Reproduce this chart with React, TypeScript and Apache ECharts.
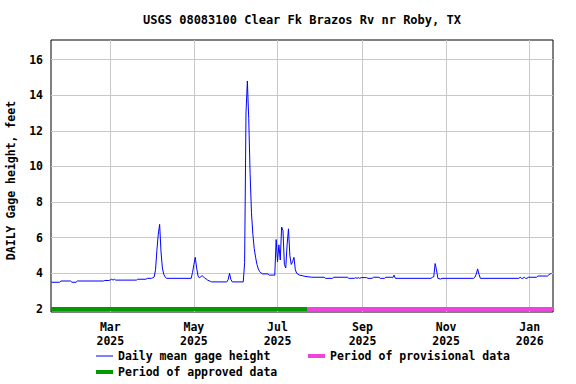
import React, { useEffect, useRef } from "react";
import * as echarts from "echarts";

const FONT = "'DejaVu Sans Mono', 'Liberation Mono', monospace";

const chartTitle = "USGS 08083100 Clear Fk Brazos Rv nr Roby, TX";
const yAxisTitle = "DAILY Gage height, feet";
const lineName = "Daily mean gage height";
const approvedName = "Period of approved data";
const provisionalName = "Period of provisional data";

// Daily mean gage height (feet)
const gageDates = [
  "2025-01-17", "2025-01-23", "2025-01-24", "2025-01-31", "2025-02-01", "2025-02-04",
  "2025-02-05", "2025-02-24", "2025-02-25", "2025-02-28", "2025-03-01", "2025-03-02",
  "2025-03-03", "2025-03-04", "2025-03-05", "2025-03-20", "2025-03-21", "2025-03-27",
  "2025-03-28", "2025-03-31", "2025-04-01", "2025-04-02", "2025-04-03", "2025-04-04",
  "2025-04-05", "2025-04-06", "2025-04-07", "2025-04-08", "2025-04-09", "2025-04-10",
  "2025-04-11", "2025-04-29", "2025-04-30", "2025-05-01", "2025-05-02", "2025-05-03",
  "2025-05-04", "2025-05-05", "2025-05-06", "2025-05-07", "2025-05-08", "2025-05-09",
  "2025-05-10", "2025-05-11", "2025-05-13", "2025-05-14", "2025-05-25", "2025-05-26",
  "2025-05-27", "2025-05-28", "2025-05-29", "2025-06-06", "2025-06-07", "2025-06-08",
  "2025-06-09", "2025-06-10", "2025-06-11", "2025-06-12", "2025-06-13", "2025-06-14",
  "2025-06-15", "2025-06-16", "2025-06-17", "2025-06-18", "2025-06-19", "2025-06-20",
  "2025-06-24", "2025-06-25", "2025-06-29", "2025-06-30", "2025-07-01", "2025-07-02",
  "2025-07-03", "2025-07-04", "2025-07-05", "2025-07-06", "2025-07-07", "2025-07-08",
  "2025-07-09", "2025-07-10", "2025-07-11", "2025-07-12", "2025-07-13", "2025-07-14",
  "2025-07-15", "2025-07-16", "2025-07-17", "2025-07-19", "2025-07-21", "2025-07-24",
  "2025-07-26", "2025-08-04", "2025-08-05", "2025-08-10", "2025-08-11", "2025-08-21",
  "2025-08-22", "2025-08-26", "2025-08-27", "2025-08-28", "2025-08-29", "2025-08-30",
  "2025-08-31", "2025-09-04", "2025-09-05", "2025-09-08", "2025-09-09", "2025-09-13",
  "2025-09-14", "2025-09-17", "2025-09-18", "2025-09-22", "2025-09-23", "2025-09-24",
  "2025-09-25", "2025-10-21", "2025-10-22", "2025-10-23", "2025-10-24", "2025-10-25",
  "2025-10-26", "2025-10-28", "2025-10-29", "2025-11-21", "2025-11-22", "2025-11-23",
  "2025-11-24", "2025-11-25", "2025-11-26", "2025-12-24", "2025-12-25", "2025-12-26",
  "2025-12-27", "2025-12-28", "2025-12-29", "2025-12-30", "2025-12-31", "2026-01-06",
  "2026-01-07", "2026-01-14", "2026-01-15", "2026-01-16", "2026-01-17",
];
const gageHeights = [
  3.5, 3.5, 3.57, 3.57, 3.5, 3.5,
  3.57, 3.57, 3.6, 3.6, 3.63, 3.67,
  3.62, 3.67, 3.62, 3.62, 3.67, 3.67,
  3.72, 3.72, 3.75, 3.8, 4.2, 5.3,
  6.2, 6.75, 5.2, 4.3, 3.95, 3.8,
  3.72, 3.72, 4.05, 4.5, 4.9, 4.3,
  3.85, 3.75, 3.8, 3.88, 3.8, 3.72,
  3.68, 3.62, 3.55, 3.52, 3.52, 3.65,
  4.0, 3.65, 3.52, 3.52, 4.6, 13.0,
  14.8, 12.7, 9.6, 7.4, 6.2, 5.4,
  4.9, 4.5, 4.25, 4.1, 4.02, 3.97,
  3.97, 3.9, 3.9, 5.9, 4.65, 5.6,
  4.75, 6.6, 6.4, 4.5, 4.3, 5.6,
  6.5, 5.0, 4.5, 4.65, 4.9, 4.2,
  4.0, 3.95, 3.9, 3.87, 3.83, 3.8,
  3.78, 3.78, 3.72, 3.72, 3.78, 3.78,
  3.72, 3.72, 3.76, 3.72, 3.76, 3.72,
  3.76, 3.76, 3.72, 3.72, 3.78, 3.78,
  3.72, 3.72, 3.78, 3.78, 3.75, 3.9,
  3.72, 3.72, 3.78, 3.8, 4.55, 4.2,
  3.72, 3.68, 3.72, 3.72, 3.78, 3.95,
  4.25, 3.95, 3.72, 3.72, 3.78, 3.72,
  3.72, 3.78, 3.72, 3.72, 3.78, 3.78,
  3.85, 3.85, 3.92, 3.97, 4.0,
];

const xRange = ["2025-01-16T17:30:00", "2026-01-18T00:00:00"];
const yRange = [1.83, 17.1];
const yTickValues = [2, 4, 6, 8, 10, 12, 14, 16];
const xTickDates = ["2025-03-01", "2025-05-01", "2025-07-01", "2025-09-01", "2025-11-01", "2026-01-01"];
const xTickLabels = ["Mar\n2025", "May\n2025", "Jul\n2025", "Sep\n2025", "Nov\n2025", "Jan\n2026"];

const periodLevel = 2;
const approvedPeriod = ["2025-01-16T17:30:00", "2025-07-23T00:00:00"];
const provisionalPeriod = ["2025-07-23T00:00:00", "2026-01-18T00:00:00"];

const toTime = (s: string) => new Date(s.length === 10 ? s + "T00:00:00" : s).getTime();

export default function App() {
  const ref = useRef<HTMLDivElement>(null);

  useEffect(() => {
    document.body.style.margin = "0";
    if (!ref.current) return;
    const chart = echarts.init(ref.current, null, { renderer: "svg" });
    const xTicks = xTickDates.map(toTime);
    const labelStyle = {
      fontFamily: FONT,
      fontWeight: "bold" as const,
      fontSize: 11.5,
      color: "#000",
    };
    const gridLine = { show: true, lineStyle: { color: "#c8c8c8", width: 1 } };

    chart.setOption({
      animation: false,
      backgroundColor: "#fff",
      textStyle: { fontFamily: FONT },
      graphic: [
        {
          type: "text",
          x: 302,
          y: 20,
          style: {
            text: chartTitle,
            align: "center",
            verticalAlign: "middle",
            font: `bold 12px ${FONT}`,
            fill: "#000",
          },
        },
      ],
      grid: {
        left: 51,
        right: 23,
        top: 40,
        bottom: 72,
        containLabel: false,
        outerBoundsMode: "none",
        show: true,
        borderColor: "#000",
        borderWidth: 1,
        backgroundColor: "#fff",
      },
      xAxis: {
        type: "value",
        min: toTime(xRange[0]),
        max: toTime(xRange[1]),
        axisLine: { show: false },
        axisTick: { show: false, customValues: xTicks },
        axisLabel: {
          ...labelStyle,
          customValues: xTicks,
          margin: 8,
          lineHeight: 14,
          formatter: (v: number) => {
            const i = xTicks.findIndex((t) => Math.abs(t - v) < 1000);
            return i >= 0 ? xTickLabels[i] : "";
          },
        },
        splitLine: gridLine,
      },
      yAxis: {
        type: "value",
        min: yRange[0],
        max: yRange[1],
        name: yAxisTitle,
        nameLocation: "middle",
        nameGap: 34,
        nameTextStyle: { ...labelStyle, padding: [0, 9, 0, 0] },
        axisLine: { show: false },
        axisTick: { show: false, customValues: yTickValues },
        axisLabel: { ...labelStyle, customValues: yTickValues, margin: 8 },
        splitLine: gridLine,
      },
      legend: [
        {
          data: [{ name: lineName, icon: "rect" }],
          left: 96,
          top: 350,
          padding: 0,
          itemWidth: 17,
          itemHeight: 1,
          textStyle: { ...labelStyle },
        },
        {
          data: [{ name: provisionalName, icon: "rect" }],
          left: 308,
          top: 350,
          padding: 0,
          itemWidth: 17,
          itemHeight: 4,
          textStyle: { ...labelStyle },
        },
        {
          data: [{ name: approvedName, icon: "rect" }],
          left: 96,
          top: 366,
          padding: 0,
          itemWidth: 17,
          itemHeight: 4,
          textStyle: { ...labelStyle },
        },
      ],
      series: [
        {
          name: approvedName,
          type: "line",
          data: approvedPeriod.map((d) => [toTime(d), periodLevel]),
          symbol: "none",
          color: "#009900",
          lineStyle: { width: 4, color: "#009900" },
          z: 2,
        },
        {
          name: provisionalName,
          type: "line",
          data: provisionalPeriod.map((d) => [toTime(d), periodLevel]),
          symbol: "none",
          color: "#ee44dd",
          lineStyle: { width: 4, color: "#ee44dd" },
          z: 2,
        },
        {
          name: lineName,
          type: "line",
          data: gageDates.map((d, i) => [toTime(d), gageHeights[i]]),
          symbol: "none",
          color: "#0000ff",
          lineStyle: { width: 1, color: "#0000ff" },
          z: 3,
        },
      ],
    });
    return () => chart.dispose();
  }, []);

  return <div ref={ref} style={{ width: 576, height: 384 }} />;
}
